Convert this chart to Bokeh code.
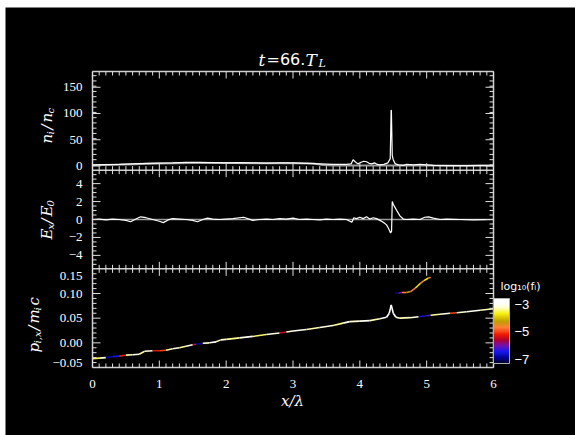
import numpy as np
from bokeh.plotting import figure
from bokeh.models import Range1d, FixedTicker, Label, ColorBar, LinearColorMapper, ColumnDataSource
from bokeh.transform import linear_cmap
from bokeh.embed import file_html
from bokeh.resources import INLINE

# ---------------- data ----------------
# top panel: density n_i/n_c
x_ni = [0.0, 0.2, 0.4, 0.6, 0.8, 1.0, 1.2, 1.4, 1.6, 1.8, 2.0, 2.2, 2.4, 2.6, 2.8, 3.0, 3.2, 3.4, 3.6, 3.8,
        3.87, 3.9, 3.93, 3.97, 4.02, 4.06, 4.1, 4.14, 4.18, 4.22, 4.26, 4.3, 4.36, 4.42, 4.455, 4.468, 4.472,
        4.485, 4.5, 4.53, 4.58, 4.65, 4.7, 4.8, 4.9, 5.0, 5.1, 5.3, 5.6, 5.8, 6.0]
ni = [2, 2.5, 3, 4, 5, 5.5, 6, 7, 7, 6.5, 6, 6.5, 6, 5.5, 6, 6, 5, 4, 3, 3,
      4, 12, 8, 4, 7, 9, 8, 5, 4, 6, 3, 2, 3, 6, 14, 106, 106,
      20, 12, 4, 2, 1, 3, 2, 3, 2, 1, 0.5, 0.5, 1, 1]
x_ng = [0.0, 0.5, 1.0, 1.5, 2.0, 2.5, 3.0, 3.3, 3.45, 3.6, 4.0, 4.5, 5.0, 5.5, 6.0]
ng = [1.5, 3, 4.5, 5.5, 5.5, 5, 5, 4.5, 2, 1, 1, 1, 1, 0.5, 0.5]

# middle panel: E_x/E_0
x_ex = [0.0, 0.1, 0.2, 0.3, 0.4, 0.5, 0.57, 0.65, 0.72, 0.8, 0.9, 1.0, 1.06, 1.13, 1.2, 1.3, 1.4, 1.5, 1.57,
        1.65, 1.72, 1.8, 1.9, 2.0, 2.1, 2.26, 2.4, 2.5, 2.6, 2.7, 2.8, 2.9, 3.0, 3.1, 3.2, 3.3, 3.4, 3.5,
        3.6, 3.7, 3.8, 3.88, 3.91, 3.95, 4.0, 4.05, 4.1, 4.15, 4.2, 4.25, 4.3, 4.35, 4.4, 4.43, 4.46,
        4.475, 4.485, 4.5, 4.53, 4.56, 4.6, 4.65, 4.7, 4.8, 4.9, 4.97, 5.03, 5.1, 5.2, 5.3, 5.5, 5.7, 6.0]
ex = [0.0, 0.05, -0.05, 0.05, 0.0, -0.1, -0.25, 0.05, 0.3, 0.2, 0.0, -0.2, -0.35, -0.05, 0.1, 0.05, 0.0, -0.1, -0.25,
      0.0, 0.15, 0.05, 0.0, 0.05, 0.1, 0.25, -0.1, 0.0, 0.05, 0.0, 0.1, 0.05, 0.15, 0.0, 0.05, 0.0, -0.05, 0.05,
      0.0, 0.05, 0.0, -0.3, 0.2, 0.1, 0.25, 0.1, 0.3, 0.05, 0.2, 0.1, -0.1, -0.3, -0.6, -1.0, -1.5,
      -1.3, 2.0, 1.7, 1.3, 0.9, 0.4, 0.05, 0.0, 0.05, 0.0, 0.25, 0.3, 0.15, 0.0, 0.05, 0.0, -0.05, 0.0]
e_zero = [0.0, 0.0]

# bottom panel: phase space p_x/m_i c, coloured by log10(f_i)
x_pm = [0.0, 0.1, 0.2, 0.3, 0.4, 0.5, 0.6, 0.7, 0.78, 0.9, 1.0, 1.1, 1.2, 1.3, 1.4, 1.5, 1.55, 1.65, 1.75, 1.85,
        1.92, 2.0, 2.2, 2.4, 2.6, 2.8, 2.9, 3.0, 3.2, 3.4, 3.6, 3.75, 3.85, 4.0, 4.15, 4.3, 4.4, 4.44, 4.47,
        4.5, 4.54, 4.6, 4.75, 4.88, 5.0, 5.06, 5.2, 5.35, 5.45, 5.6, 5.8, 6.0]
p_pm = [-0.032, -0.031, -0.030, -0.028, -0.027, -0.025, -0.024, -0.023, -0.017, -0.016, -0.016, -0.015, -0.012,
        -0.010, -0.007, -0.004, -0.003, -0.001, 0.0, 0.002, 0.006, 0.007, 0.010, 0.013, 0.017, 0.020, 0.022,
        0.024, 0.027, 0.031, 0.035, 0.040, 0.043, 0.044, 0.045, 0.049, 0.052, 0.060, 0.077, 0.060, 0.052,
        0.050, 0.051, 0.053, 0.055, 0.056, 0.058, 0.060, 0.061, 0.063, 0.066, 0.069]
f_pm = [-3.6, -3.2, -6.8, -6.5, -5.2, -3.3, -3.0, -3.4, -3.1, -5.3, -5.0, -3.3, -3.1, -3.4, -3.0, -5.4, -6.8,
        -3.2, -2.9, -3.3, -3.1, -3.4, -3.0, -3.5, -3.1, -5.5, -3.2, -3.0, -3.3, -3.1, -3.4, -3.0, -3.2, -3.0,
        -3.3, -3.0, -2.9, -2.8, -2.7, -3.0, -3.2, -3.3, -3.1, -6.6, -6.2, -3.4, -3.1, -5.0, -3.2, -3.0, -3.3, -3.1]
x_pu = [4.53, 4.58, 4.63, 4.7, 4.76, 4.83, 4.91, 4.96, 5.02, 5.06]
p_pu = [0.101, 0.101, 0.102, 0.102, 0.104, 0.111, 0.121, 0.126, 0.131, 0.133]
f_pu = [-6.8, -6.0, -4.7, -4.2, -4.8, -3.9, -4.6, -3.8, -4.5, -4.2]

# axes / ticks
x_lim = (0.0, 6.0)
n_range = (-8.0, 180.0)
e_range = (-5.5, 5.5)
p_range = (-0.05, 0.15)
n_ticks = [0, 50, 100, 150]
n_labels = ["0", "50", "100", "150"]
e_ticks = [-4, -2, 0, 2, 4]
e_labels = ["\u22124", "\u22122", "0", "2", "4"]
p_ticks = [-0.05, 0.0, 0.05, 0.10, 0.15]
p_labels = ["\u22120.05", "0.00", "0.05", "0.10", "0.15"]
x_ticks = [0, 1, 2, 3, 4, 5, 6]
x_labels = ["0", "1", "2", "3", "4", "5", "6"]
n_minor_step, e_minor_step, p_minor_step, x_minor_step = 10, 0.5, 0.01, 0.1
cbar_ticks = [-7, -5, -3]
cbar_labels = ["\u22127", "\u22125", "\u22123"]
cbar_low, cbar_high = -7.3, -2.6

# ---------------- layout / style ----------------
W, H = 570, 428                   # canvas
PL, PR, PT, PB = 87, 82, 64, 68   # margins around the stacked panels (px)
FG = "#e0e0e0"
TICK_FONT = "Liberation Sans"
SER, SAN = "DejaVu Serif", "DejaVu Sans"
pal_anchor = [(0.00, "#000028"), (0.08, "#000090"), (0.18, "#1818f0"), (0.28, "#7810a8"),
              (0.36, "#b00030"), (0.45, "#f01800"), (0.55, "#ff8038"), (0.65, "#c0a000"),
              (0.77, "#f8f010"), (0.86, "#ffffc8"), (0.93, "#ffffff"), (1.00, "#ffffff")]


def hex2rgb(h):
    return np.array([int(h[i:i + 2], 16) for i in (1, 3, 5)], float)


pos = np.array([a[0] for a in pal_anchor])
cols = np.array([hex2rgb(a[1]) for a in pal_anchor])
palette = []
for t in np.linspace(0, 1, 128):
    rgb = [np.interp(t, pos, cols[:, c]) for c in range(3)]
    palette.append("#%02x%02x%02x" % tuple(int(round(v)) for v in rgb))

fw, fh = W - PL - PR, H - PT - PB
xs_per_px = (x_lim[1] - x_lim[0]) / fw
g_per_px = 3.0 / fh
x_range = Range1d(x_lim[0] - PL * xs_per_px, x_lim[1] + PR * xs_per_px)
G0, G1 = -PB * g_per_px, 3.0 + PT * g_per_px


def stacked(r, k):
    lo, hi = r
    s = hi - lo
    return Range1d(lo + (G0 - k) * s, lo + (G1 - k) * s)


p = figure(width=W, height=H, margin=(7, 0, 0, 5), output_backend="svg", toolbar_location=None,
           x_range=x_range, y_range=Range1d(G0, G1), x_axis_location=None, y_axis_location=None,
           min_border=0, background_fill_color="black", border_fill_color="black",
           outline_line_color=None)
p.grid.visible = False
p.extra_y_ranges = {"n": stacked(n_range, 2), "e": stacked(e_range, 1), "p": stacked(p_range, 0)}

# data lines
p.line(x_lim, e_zero, y_range_name="e", line_color="#9a9a9a", line_width=1.5)
p.line(x_ng, ng, y_range_name="n", line_color="#9a9a9a", line_width=2)
p.line(x_ni, ni, y_range_name="n", line_color="white", line_width=1.2)
p.line(x_ex, ex, y_range_name="e", line_color="white", line_width=1.2)

seg = ColumnDataSource(dict(
    x0=x_pm[:-1] + x_pu[:-1], x1=x_pm[1:] + x_pu[1:],
    y0=p_pm[:-1] + p_pu[:-1], y1=p_pm[1:] + p_pu[1:],
    f=f_pm[:-1] + f_pu[:-1]))
p.segment("x0", "y0", "x1", "y1", source=seg, y_range_name="p", line_width=1.6,
          line_color=linear_cmap("f", palette, cbar_low, cbar_high))

# panel frames
bx = [list(x_lim)] * 4 + [[x_lim[0]] * 2, [x_lim[1]] * 2]
by = [[b, b] for b in (0, 1, 2, 3)] + [[0, 3], [0, 3]]
p.multi_line(bx, by, line_color="#d0d0d0", line_width=1.5)

# inward tick marks (rays of fixed screen length)
x_minor = [v for v in np.round(np.arange(x_lim[0], x_lim[1] + 1e-9, x_minor_step), 3)
           if all(abs(v - t) > 1e-6 for t in x_ticks)]
for b in (0, 1, 2, 3):
    for ang, ok in ((np.pi / 2, b < 3), (-np.pi / 2, b > 0)):
        if ok:
            p.ray(x_ticks, [b] * len(x_ticks), length=7, angle=ang, length_units="screen",
                  line_color=FG, line_width=1)
            p.ray(x_minor, [b] * len(x_minor), length=4, angle=ang, length_units="screen",
                  line_color=FG, line_width=1)
yt = [("n", n_range, n_ticks, n_minor_step), ("e", e_range, e_ticks, e_minor_step),
      ("p", p_range, p_ticks, p_minor_step)]
for name, r, maj, step in yt:
    mnr = [v for v in np.round(np.arange(r[0], r[1], step), 4)
           if r[0] < v < r[1] and all(abs(v - m) > 1e-9 for m in maj)]
    maj_in = [m for m in maj if r[0] < m < r[1]]
    for xe, ang in ((x_lim[0], 0.0), (x_lim[1], np.pi)):
        p.ray([xe] * len(maj_in), maj_in, y_range_name=name, length=8, angle=ang,
              length_units="screen", line_color=FG, line_width=1)
        p.ray([xe] * len(mnr), mnr, y_range_name=name, length=4, angle=ang,
              length_units="screen", line_color=FG, line_width=1)

# tick labels
tick_style = dict(text_color="white", text_font=TICK_FONT, text_font_size="13px")
p_nudge = [-5, 0, 0, 0, 7]
for name, tv, tl, yo in [("n", n_ticks, n_labels, [0] * 4), ("e", e_ticks, e_labels, [0] * 5),
                         ("p", p_ticks, p_labels, p_nudge)]:
    src = ColumnDataSource(dict(x=[x_lim[0]] * len(tv), y=tv, t=tl, yo=yo))
    p.text("x", "y", text="t", source=src, y_range_name=name, x_offset=-10, y_offset="yo",
           text_align="right", text_baseline="middle", **tick_style)
p.text(x_ticks, [0] * len(x_ticks), text=x_labels, x_offset=0, y_offset=16,
       text_align="center", text_baseline="middle", **tick_style)

# colour bar
mapper = LinearColorMapper(palette=palette, low=cbar_low, high=cbar_high)
cb = ColorBar(color_mapper=mapper, location=(PL + fw, 72), width=16, height=65, padding=0, margin=0,
              ticker=FixedTicker(ticks=cbar_ticks, minor_ticks=[]),
              major_label_overrides=dict(zip(cbar_ticks, cbar_labels)),
              major_label_text_color="white", major_label_text_font=TICK_FONT,
              major_label_text_font_size="13px", major_tick_line_color=None,
              bar_line_color="#b0b0b0", background_fill_color=None, border_line_color=None,
              label_standoff=5)
p.add_layout(cb)


def rich(pieces, x0, y0, vertical=False):
    s = 0
    for text, size, shift, adv, font, style in pieces:
        if vertical:
            x, y, ang = x0 + shift, y0 + s, np.pi / 2
        else:
            x, y, ang = x0 + s, y0 - shift, 0
        p.add_layout(Label(x=x, y=y, x_units="screen", y_units="screen", text=text, angle=ang,
                           text_font=font, text_font_size=f"{size}px", text_font_style=style,
                           text_color="white", text_align="left", text_baseline="alphabetic"))
        s += adv


# title t=66.T_L
rich([("t", 17, 0, 8, SER, "italic"), ("=66.", 16, 0, 39, SAN, "normal"),
      ("T", 17, 0, 13, SER, "italic"), ("L", 11, 4, 8, SER, "italic")], 253, 376)
# y titles
rich([("n", 15, 0, 9, SER, "italic"), ("i", 10, 4, 5, SER, "italic"), ("/", 15, 0, 7, SER, "italic"),
      ("n", 15, 0, 9, SER, "italic"), ("c", 10, 4, 6, SER, "italic")], 41, 292, vertical=True)
rich([("E", 15, 0, 10, SER, "italic"), ("x", 10, 4, 6, SER, "italic"), ("/", 15, 0, 7, SER, "italic"),
      ("E", 15, 0, 10, SER, "italic"), ("0", 10, 4, 6, SER, "italic")], 41, 196, vertical=True)
rich([("p", 15, 0, 9, SER, "italic"), ("i,x", 10, 4, 13, SER, "italic"), ("/", 15, 0, 7, SER, "italic"),
      ("m", 15, 0, 13, SER, "italic"), ("i", 10, 4, 5, SER, "italic"), ("c", 15, 0, 8, SER, "italic")],
     28, 83, vertical=True)
# x title
p.add_layout(Label(x=287, y=35, x_units="screen", y_units="screen", text="x/\u03bb",
                   text_font=SER, text_font_size="15px", text_font_style="italic",
                   text_color="white", text_align="center", text_baseline="alphabetic"))
# colour bar title
p.add_layout(Label(x=495, y=149, x_units="screen", y_units="screen", text="log\u2081\u2080(f\u1d62)",
                   text_font=SAN, text_font_size="11px", text_color="white",
                   text_align="left", text_baseline="alphabetic"))

open("out.html", "w").write(file_html(p, INLINE))
